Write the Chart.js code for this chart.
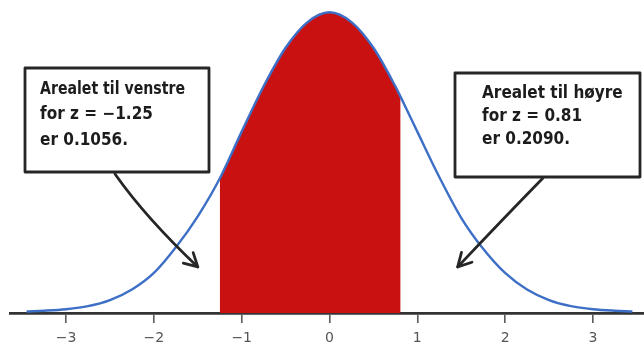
<!DOCTYPE html>
<html>
<head>
<meta charset="utf-8">
<script src="https://cdn.jsdelivr.net/npm/chart.js@4/dist/chart.umd.min.js"></script>
<style>
  html, body { margin: 0; padding: 0; background: #ffffff; }
  #wrap { width: 644px; height: 354px; position: relative; }
</style>
</head>
<body>
<div id="wrap"><canvas id="c" width="644" height="354"></canvas></div>
<script>
// z-values along the horizontal axis
const zValues = [-3.45, -3.25, -3.0, -2.75, -2.5, -2.25, -2.0, -1.75, -1.5, -1.25, -1.0, -0.75, -0.5, -0.25, 0,
                 0.25, 0.5, 0.75, 0.81, 1.0, 1.25, 1.5, 1.75, 2.0, 2.25, 2.5, 2.75, 3.0, 3.25, 3.45];
// curve heights
const densityValues = [0.002, 0.003, 0.005, 0.009, 0.017, 0.031, 0.053, 0.087, 0.128, 0.178, 0.240, 0.300, 0.351, 0.385, 0.398,
                       0.385, 0.351, 0.300, 0.286, 0.240, 0.180, 0.126, 0.085, 0.053, 0.031, 0.017, 0.009, 0.005, 0.003, 0.002];
// shaded interval
const shadeFrom = -1.25;
const shadeTo = 0.81;
// tick values and labels
const tickValues = [-3, -2, -1, 0, 1, 2, 3];
const tickLabels = ['\u22123', '\u22122', '\u22121', '0', '1', '2', '3'];
// annotation texts
const leftNote = ['Arealet til venstre', 'for z = \u22121.25', 'er 0.1056.'];
const rightNote = ['Arealet til h\u00f8yre', 'for z = 0.81', 'er 0.2090.'];

const curvePoints = zValues.map((z, i) => ({ x: z, y: densityValues[i] }));
const shadePoints = curvePoints.filter(p => p.x >= shadeFrom && p.x <= shadeTo);

const noteFont = 'bold 17px "Liberation Sans Narrow", "DejaVu Sans Condensed", "Open Sans", sans-serif';

function drawArrow(ctx, x0, y0, cx, cy, x1, y1) {
  ctx.beginPath();
  ctx.moveTo(x0, y0);
  ctx.quadraticCurveTo(cx, cy, x1, y1);
  ctx.stroke();
  const ang = Math.atan2(y1 - cy, x1 - cx);
  const L = 15, a = 0.5;
  ctx.beginPath();
  ctx.moveTo(x1 - L * Math.cos(ang - a), y1 - L * Math.sin(ang - a));
  ctx.lineTo(x1, y1);
  ctx.lineTo(x1 - L * Math.cos(ang + a), y1 - L * Math.sin(ang + a));
  ctx.stroke();
}

const notesPlugin = {
  id: 'notes',
  afterDatasetsDraw(chart) {
    const ctx = chart.ctx;
    const xs = chart.scales.x, ys = chart.scales.y;
    ctx.save();
    ctx.strokeStyle = '#262626';
    ctx.lineWidth = 2.8;
    ctx.lineJoin = 'round';
    ctx.lineCap = 'round';
    // boxes
    ctx.fillStyle = '#ffffff';
    ctx.fillRect(25, 68, 184, 104);
    ctx.strokeRect(25, 68, 184, 104);
    ctx.fillRect(455, 73, 185, 104);
    ctx.strokeRect(455, 73, 185, 104);
    // texts
    ctx.fillStyle = '#1c1c1c';
    ctx.font = noteFont;
    ctx.textBaseline = 'middle';
    ctx.textAlign = 'left';
    const lyL = [90, 115, 141];
    leftNote.forEach((t, i) => ctx.fillText(t, 40, lyL[i], 145));
    const lyR = [94, 117, 140];
    rightNote.forEach((t, i) => ctx.fillText(t, 482, lyR[i], 150));
    // arrows pointing at the tails
    const lx = xs.getPixelForValue(-1.5), ly = ys.getPixelForValue(0.061);
    const rx = xs.getPixelForValue(1.46), ry = ys.getPixelForValue(0.061);
    drawArrow(ctx, 115, 174, 146, 218, lx, ly);
    drawArrow(ctx, 543, 178, 502, 220, rx, ry);
    ctx.restore();
  }
};

new Chart(document.getElementById('c'), {
  type: 'line',
  data: {
    datasets: [
      {
        data: curvePoints,
        borderColor: '#3d6fc6',
        borderWidth: 2.4,
        pointRadius: 0,
        fill: false,
        cubicInterpolationMode: 'monotone',
        order: 0,
        clip: 6
      },
      {
        data: shadePoints,
        borderColor: 'rgba(0,0,0,0)',
        borderWidth: 0,
        backgroundColor: '#c91112',
        pointRadius: 0,
        fill: 'origin',
        cubicInterpolationMode: 'monotone',
        order: 1
      }
    ]
  },
  options: {
    responsive: false,
    animation: false,
    events: [],
    layout: { padding: { left: 10, right: 0, top: 0, bottom: 0 } },
    plugins: { legend: { display: false }, tooltip: { enabled: false } },
    scales: {
      x: {
        type: 'linear',
        min: -3.639,
        max: 3.582,
        afterBuildTicks: (scale) => { scale.ticks = tickValues.map(v => ({ value: v })); },
        afterFit: (scale) => { scale.height = 41; },
        border: { display: true, color: '#333333', width: 2.8 },
        grid: { drawOnChartArea: false, drawTicks: true, tickLength: 10, color: '#5a5a5a', lineWidth: 1.6 },
        ticks: {
          autoSkip: false,
          maxRotation: 0,
          padding: 7,
          color: '#555555',
          font: { family: '"DejaVu Sans", sans-serif', size: 14 },
          callback: (v) => { const i = tickValues.indexOf(v); return i >= 0 ? tickLabels[i] : ''; }
        }
      },
      y: {
        display: false,
        min: 0,
        max: 0.4142
      }
    }
  },
  plugins: [notesPlugin]
});
</script>
</body>
</html>
